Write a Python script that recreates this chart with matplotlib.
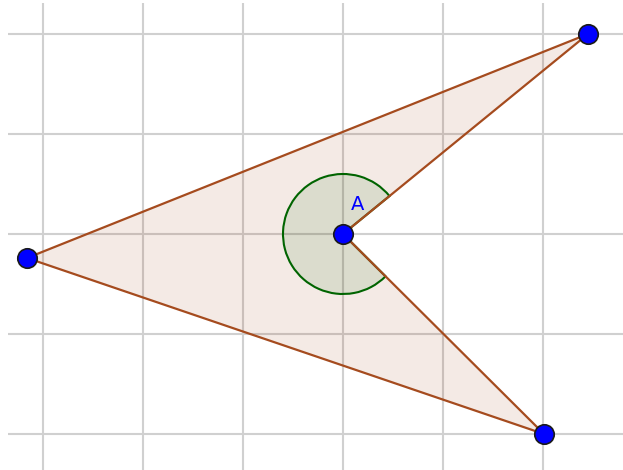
import numpy as np
import matplotlib.pyplot as plt
from matplotlib.patches import Polygon, Wedge

# vertices of the polygon (grid units, A at origin)
names = ['A', 'B', 'C', 'D']
xs = [0.0, 2.45, -3.16, 2.01]
ys = [0.0, 2.0, -0.24, -2.0]
angleRadius = 0.6
gridX = [-3, -2, -1, 0, 1, 2]
gridY = [-2, -1, 0, 1, 2]

fig = plt.figure(figsize=(6.23, 4.70), dpi=100)
ax = fig.add_axes([8 / 623, 0, 615 / 623, 467 / 470])
ax.set_xlim(-3.35, 2.80)
ax.set_ylim(-2.36, 2.31)
ax.set_xticks(gridX)
ax.set_yticks(gridY)
ax.tick_params(length=0, labelbottom=False, labelleft=False)
ax.grid(True, color='#d0d0d0', linewidth=1.5)
ax.set_axisbelow(True)
for s in ax.spines.values():
    s.set_visible(False)

brown = (165/255, 75/255, 30/255)
green = (0, 100/255, 0)

pts = np.column_stack([xs, ys])
ax.add_patch(Polygon(pts, closed=True, facecolor=(153/255, 51/255, 0), alpha=0.1,
                     edgecolor='none', zorder=2))

# reflex angle at A, from AB round to AD
a1 = np.degrees(np.arctan2(ys[1] - ys[0], xs[1] - xs[0]))
a2 = np.degrees(np.arctan2(ys[3] - ys[0], xs[3] - xs[0])) + 360
ax.add_patch(Wedge((xs[0], ys[0]), angleRadius, a1, a2, facecolor=green,
                   alpha=0.1, edgecolor='none', zorder=3))
ax.add_patch(Wedge((xs[0], ys[0]), angleRadius, a1, a2, facecolor='none',
                   edgecolor=green, linewidth=1.5, zorder=3))

ax.add_patch(Polygon(pts, closed=True, facecolor='none', edgecolor=brown,
                     linewidth=1.6, zorder=4))

ax.plot(xs, ys, 'o', color='#0000ff', markersize=14, markeredgecolor='#1a1a1a',
        markeredgewidth=1.2, linestyle='none', zorder=5)
ax.text(xs[0] + 0.15, ys[0] + 0.30, names[0], color='#0000ff', fontsize=14,
        ha='center', va='center', zorder=6)

fig.savefig('out.png', dpi=100)
